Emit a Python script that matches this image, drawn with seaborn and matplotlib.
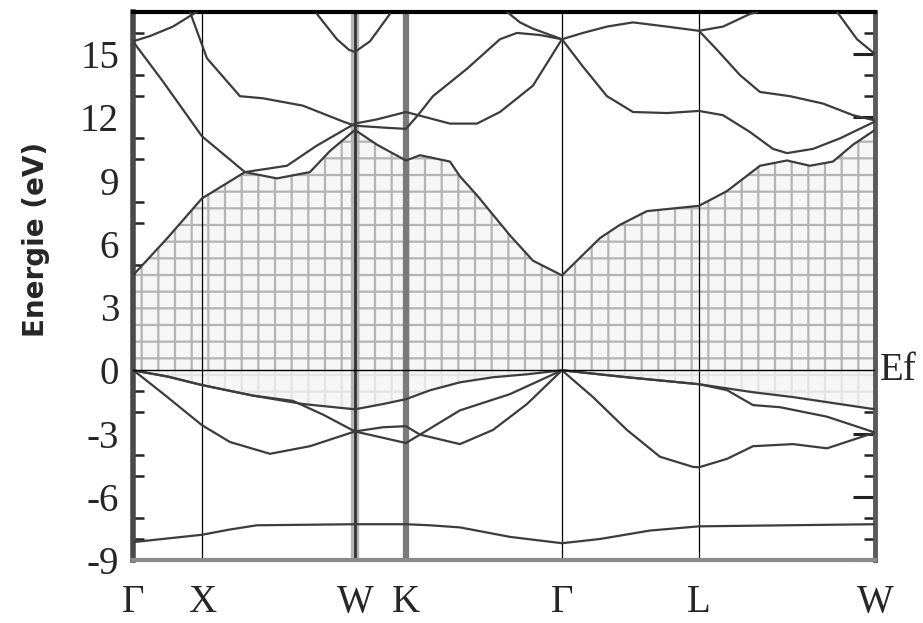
import numpy as np
import pandas as pd
import seaborn as sns
import matplotlib.pyplot as plt
from matplotlib.ticker import MultipleLocator

# high symmetry points along the path (k in arbitrary path units)
kpt_labels = ['Γ', 'X', 'W', 'K', 'Γ', 'L', 'W']
kpt_pos = [0, 69, 222, 273, 429, 566, 742]

# valence bands (eV)
v1_k = [0, 69, 97, 124, 222, 273, 297, 327, 377, 429, 467, 517, 566, 742]
v1_e = [-8.15, -7.8, -7.55, -7.35, -7.3, -7.3, -7.35, -7.45, -7.9, -8.2, -8.0, -7.6, -7.4, -7.3]

va_k = [0, 35, 69, 120, 170, 222, 250, 273, 297, 327, 360, 394, 429, 494, 566, 620, 660, 742]
va_e = [0, -0.3, -0.7, -1.2, -1.6, -1.85, -1.6, -1.37, -0.95, -0.57, -0.33, -0.19, 0,
        -0.33, -0.66, -1.04, -1.27, -1.85]

vb_k = [0, 35, 69, 120, 160, 190, 222, 250, 273, 287, 327, 360, 394, 429, 494, 566, 594,
        620, 647, 694, 742]
vb_e = [0, -0.3, -0.7, -1.2, -1.45, -2.1, -2.9, -2.7, -2.65, -3.05, -3.5, -2.83, -1.6, 0,
        -0.33, -0.66, -0.94, -1.65, -1.75, -2.2, -2.95]

vc_k = [0, 7, 30, 69, 97, 137, 177, 222, 250, 273, 287, 327, 377, 429, 460, 494, 527, 560,
        566, 594, 620, 660, 694, 742]
vc_e = [0, -0.24, -1.1, -2.6, -3.4, -3.96, -3.6, -2.9, -3.2, -3.45, -3.05, -1.9, -1.13, 0,
        -1.27, -2.83, -4.1, -4.58, -4.6, -4.2, -3.6, -3.5, -3.7, -2.95]

# conduction bands (eV)
cb1_k = [0, 35, 69, 112, 144, 177, 197, 222, 244, 273, 287, 317, 327, 344, 377, 400, 429,
         467, 487, 514, 566, 594, 627, 654, 677, 700, 720, 742]
cb1_e = [4.5, 6.3, 8.15, 9.4, 9.1, 9.4, 10.4, 11.4, 10.7, 9.95, 10.2, 9.9, 9.2, 8.3, 6.4,
         5.2, 4.5, 6.27, 6.9, 7.55, 7.8, 8.5, 9.7, 9.95, 9.7, 9.9, 10.7, 11.4]

cb2_k = [0, 30, 69, 112, 154, 184, 222, 244, 273, 285, 317, 344, 367, 400, 429]
cb2_e = [15.6, 13.7, 11.1, 9.4, 9.7, 10.66, 11.7, 11.9, 12.25, 12.1, 11.7, 11.7, 12.25,
         13.5, 15.7]

cb3_k = [57, 74, 107, 130, 170, 210, 222, 254, 273, 285, 300, 334, 367, 384, 407, 429]
cb3_e = [17.0, 14.8, 13.0, 12.9, 12.55, 11.8, 11.6, 11.5, 11.45, 12.1, 13.0, 14.3, 15.7,
         16.0, 15.9, 15.7]

cb4_k = [0, 17, 40, 57, 64]
cb4_e = [15.6, 15.85, 16.3, 16.8, 17.0]

cb5_k = [184, 204, 216, 222, 237, 257]
cb5_e = [16.9, 15.7, 15.2, 15.1, 15.6, 16.9]

cb6_k = [374, 387, 400, 429]
cb6_e = [17.0, 16.5, 16.2, 15.7]

cb7_k = [429, 450, 474, 500, 534, 566, 590, 617, 640, 654, 680, 707, 742]
cb7_e = [15.7, 14.4, 13.0, 12.25, 12.2, 12.3, 12.1, 11.3, 10.5, 10.3, 10.5, 11.0, 11.8]

cb8_k = [429, 450, 474, 500, 534, 566, 590, 617, 625]
cb8_e = [15.7, 16.0, 16.3, 16.5, 16.3, 16.1, 16.3, 16.9, 17.0]

cb9_k = [566, 584, 607, 627, 657, 690, 720, 742]
cb9_e = [16.1, 15.2, 14.0, 13.2, 13.0, 12.65, 12.1, 11.85]

cb10_k = [704, 724, 742]
cb10_e = [17.0, 15.7, 15.0]

bands = [('v1', v1_k, v1_e), ('va', va_k, va_e), ('vb', vb_k, vb_e), ('vc', vc_k, vc_e),
         ('c1', cb1_k, cb1_e), ('c2', cb2_k, cb2_e), ('c3', cb3_k, cb3_e),
         ('c4', cb4_k, cb4_e), ('c5', cb5_k, cb5_e), ('c6', cb6_k, cb6_e),
         ('c7', cb7_k, cb7_e), ('c8', cb8_k, cb8_e), ('c9', cb9_k, cb9_e),
         ('c10', cb10_k, cb10_e)]

df = pd.concat([pd.DataFrame({'k': k, 'E': e, 'band': name}) for name, k, e in bands],
               ignore_index=True)

sns.set_style('white')
plt.rcParams['font.family'] = ['Liberation Serif', 'DejaVu Serif']
plt.rcParams['axes.unicode_minus'] = False
plt.rcParams['hatch.linewidth'] = 1.6

fig = plt.figure(figsize=(9.23, 6.23), dpi=100)
ax = fig.add_axes([0.144, 0.101, 0.804, 0.880])

# shaded gap region and the faint zone under Ef
ax.fill_between(cb1_k, 0, cb1_e, facecolor='#f6f6f6', edgecolor='#b4b4b4', hatch='+',
                linewidth=0, zorder=1)
ax.fill_between(va_k, va_e, 0, facecolor='#f6f6f6', edgecolor='#e4e4e4', hatch='+',
                linewidth=0, zorder=1)

# symmetry lines
for pos in [kpt_pos[1], kpt_pos[4], kpt_pos[5]]:
    ax.axvline(pos, color='black', lw=0.9, zorder=2)
ax.axvline(kpt_pos[2], color='#b4b4b4', lw=6, zorder=2)
ax.axvline(kpt_pos[2], color='#333333', lw=2, zorder=2)
ax.axvline(kpt_pos[3], color='#7a7a7a', lw=4.5, zorder=2)

sns.lineplot(data=df, x='k', y='E', units='band', estimator=None, sort=False,
             color='#3c3c3c', lw=1.6, ax=ax, zorder=3)

ax.axhline(0, color='black', lw=1.0, zorder=4)

ax.set_xlim(0, 742)
ax.set_ylim(-9, 17)
ax.set_xticks(kpt_pos)
ax.set_xticklabels(kpt_labels)
ax.set_yticks(np.arange(-9, 16, 3))
ax.yaxis.set_minor_locator(MultipleLocator(1))
ax.tick_params(axis='x', length=0, pad=17, labelsize=28)
ax.tick_params(axis='y', which='major', direction='in', length=16, width=2.2,
               labelsize=28, pad=10, right=True, color='#222222')
ax.tick_params(axis='y', which='minor', direction='in', length=8, width=1.8,
               right=True, left=True, color='#222222')
ax.set_xlabel('')
ax.set_ylabel('Energie (eV)', family='DejaVu Sans', fontsize=20, fontweight='bold')
ax.yaxis.set_label_coords(-0.112, 0.584)

ax.text(1.006, 0.346, 'Ef', transform=ax.transAxes, fontsize=28, va='center', ha='left')

ax.spines['top'].set_linewidth(3)
ax.spines['top'].set_color('black')
ax.spines['left'].set_linewidth(4)
ax.spines['left'].set_color('#4a4a4a')
ax.spines['right'].set_linewidth(3.5)
ax.spines['right'].set_color('#5a5a5a')
ax.spines['bottom'].set_linewidth(3)
ax.spines['bottom'].set_color('#8a8a8a')

fig.savefig('out.png', dpi=100)
